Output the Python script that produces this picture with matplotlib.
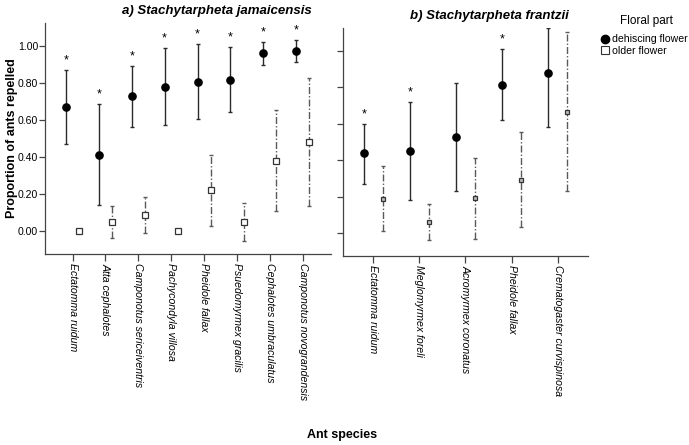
import matplotlib
matplotlib.use("Agg")
import matplotlib.pyplot as plt
from matplotlib.lines import Line2D
import numpy as np

plt.rcParams["font.family"] = ["Liberation Sans", "DejaVu Sans"]

# Panel a) Stachytarpheta jamaicensis
species_a = ["Ectatomma ruidum", "Atta cephalotes", "Camponotus sericeiventris",
             "Pachycondyla villosa", "Pheidole fallax", "Psuedomyrmex gracilis",
             "Cephalotes umbraculatus", "Camponotus novograndensis"]
dehisc_a = [0.672, 0.412, 0.730, 0.780, 0.805, 0.818, 0.960, 0.975]
dehisc_a_lo = [0.470, 0.139, 0.562, 0.572, 0.607, 0.641, 0.897, 0.914]
dehisc_a_hi = [0.870, 0.685, 0.893, 0.989, 1.009, 0.996, 1.022, 1.034]
older_a = [0.0, 0.049, 0.086, 0.0, 0.220, 0.049, 0.380, 0.481]
older_a_lo = [0.0, -0.038, -0.011, 0.0, 0.027, -0.054, 0.110, 0.135]
older_a_hi = [0.0, 0.137, 0.185, 0.0, 0.411, 0.150, 0.652, 0.825]
signif_a = [True, True, True, True, True, True, True, True]

# Panel b) Stachytarpheta frantzii
species_b = ["Ectatomma ruidum", "Meglomyrmex foreli", "Acromyrmex coronatus",
             "Pheidole fallax", "Crematogaster curvispinosa"]
dehisc_b = [0.437, 0.449, 0.530, 0.813, 0.877]
dehisc_b_lo = [0.271, 0.180, 0.233, 0.618, 0.580]
dehisc_b_hi = [0.600, 0.719, 0.826, 1.008, 1.125]
older_b = [0.189, 0.062, 0.193, 0.293, 0.666]
older_b_lo = [0.014, -0.035, -0.030, 0.033, 0.231]
older_b_hi = [0.367, 0.161, 0.411, 0.556, 1.105]
signif_b = [True, True, False, True, False]

yticks = [0.0, 0.2, 0.4, 0.6, 0.8, 1.0]

SOLID = "#2b2b2b"
DASHC = "#5a5a5a"


def draw_panel(ax, species, d, dlo, dhi, o, olo, ohi, sig, sq_size, sq_face):
    x = np.arange(len(species))
    xd = x - 0.2
    xo = x + 0.2
    d, dlo, dhi = map(np.array, (d, dlo, dhi))
    o, olo, ohi = map(np.array, (o, olo, ohi))

    ax.errorbar(xd, d, yerr=[d - dlo, dhi - d], fmt="none", ecolor=SOLID,
                elinewidth=1.0, capsize=1.6, capthick=1.0, zorder=2)
    ax.plot(xd, d, "o", color="black", markersize=5.2, zorder=3)

    has_err = (ohi - olo) > 0
    eb = ax.errorbar(xo[has_err], o[has_err],
                     yerr=[o[has_err] - olo[has_err], ohi[has_err] - o[has_err]],
                     fmt="none", ecolor=DASHC, elinewidth=1.0, capsize=1.6,
                     capthick=1.0, zorder=2)
    for lc in eb[2]:
        lc.set_linestyle((0, (5, 1.5, 1, 1.5)))
    ax.plot(xo, o, "s", markerfacecolor=sq_face, markeredgecolor="#333333",
            markeredgewidth=0.9, markersize=sq_size, zorder=3)

    # significance stars just above the dehiscing-flower error bars
    for xi, top, s in zip(xd, dhi, sig):
        if s:
            ax.text(xi, top + 0.02, "*", ha="center", va="bottom", fontsize=9)

    ax.set_ylim(-0.125, 1.125)
    ax.set_yticks(yticks)
    ax.set_xticks(x)
    ax.set_xticklabels(species, rotation=270, style="italic", fontsize=7.6,
                       ha="center", va="top")
    for side in ("top", "right"):
        ax.spines[side].set_visible(False)
    for side in ("left", "bottom"):
        ax.spines[side].set_color("#444444")
        ax.spines[side].set_linewidth(0.9)
    ax.tick_params(axis="both", direction="out", color="#444444", width=0.9)
    ax.tick_params(axis="x", length=5, pad=1.5)
    ax.tick_params(axis="y", length=4, pad=1, labelsize=7.6)


fig = plt.figure(figsize=(6.89, 4.45), dpi=100)
ax_a = fig.add_axes([0.0653, 0.4292, 0.4151, 0.5191])
ax_b = fig.add_axes([0.4978, 0.4247, 0.3556, 0.5124])

draw_panel(ax_a, species_a, dehisc_a, dehisc_a_lo, dehisc_a_hi,
           older_a, older_a_lo, older_a_hi, signif_a, 4.6, "white")
ax_a.set_xlim(-0.84, 7.86)
ax_a.set_yticklabels([f"{v:.2f}" for v in yticks])

draw_panel(ax_b, species_b, dehisc_b, dehisc_b_lo, dehisc_b_hi,
           older_b, older_b_lo, older_b_hi, signif_b, 3.2, "#bdbdbd")
ax_b.set_xlim(-0.66, 4.66)
ax_b.set_yticklabels([])

fig.text(0.315, 0.976, "a) Stachytarpheta jamaicensis", ha="center", va="center",
         fontsize=9.5, fontweight="bold", style="italic")
fig.text(0.710, 0.964, "b) Stachytarpheta frantzii", ha="center", va="center",
         fontsize=9.5, fontweight="bold", style="italic")
fig.text(0.017, 0.69, "Proportion of ants repelled", rotation=90, ha="center",
         va="center", fontsize=9, fontweight="bold")
fig.text(0.497, 0.022, "Ant species", ha="center", va="center", fontsize=9,
         fontweight="bold")

fig.text(0.938, 0.952, "Floral part", ha="center", va="center", fontsize=8.5)
handles = [
    Line2D([], [], marker="o", linestyle="none", color="black", markersize=6),
    Line2D([], [], marker="s", linestyle="none", markerfacecolor="white",
           markeredgecolor="#333333", markersize=6, markeredgewidth=0.8),
]
fig.legend(handles, ["dehiscing flower", "older flower"],
           loc="upper left", bbox_to_anchor=(0.873, 0.923), frameon=False,
           fontsize=7.6, handlelength=0.6, handletextpad=0.4,
           labelspacing=0.15, borderaxespad=0, borderpad=0)

fig.savefig("out.png", dpi=100)
